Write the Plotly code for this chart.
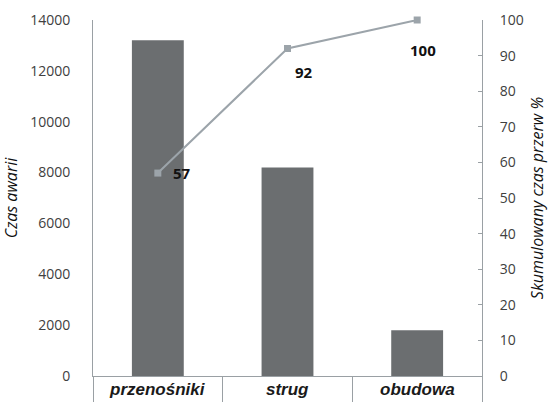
import plotly.graph_objects as go

categories = ["przenośniki", "strug", "obudowa"]
czas_awarii = [13200, 8200, 1800]
skumulowany = [57, 92, 100]
etykiety = ["57", "92", "100"]
# label offsets (px) from each cumulative point
label_dx = [24, 16, 6]
label_dy = [0, -24, -30]

left_ticks = [0, 2000, 4000, 6000, 8000, 10000, 12000, 14000]
right_ticks = [0, 10, 20, 30, 40, 50, 60, 70, 80, 90, 100]

axis_col = "#9aa0a4"
tick_font = dict(family="Open Sans", size=14, color="#404040")

fig = go.Figure()
fig.add_trace(go.Bar(
    x=categories, y=czas_awarii, width=0.4,
    marker=dict(color="#6b6e70", line=dict(width=0)),
    yaxis="y", showlegend=False,
))
fig.add_trace(go.Scatter(
    x=categories, y=skumulowany, yaxis="y2",
    mode="lines+markers",
    line=dict(color="#9ca4aa", width=2),
    marker=dict(symbol="square", size=7, color="#9ca4aa"),
    showlegend=False, cliponaxis=False,
))

for c, v, t, dx, dy in zip(categories, skumulowany, etykiety, label_dx, label_dy):
    fig.add_annotation(
        x=c, xref="x", y=v, yref="y2", xshift=dx, yshift=dy,
        text=f"<b>{t}</b>", showarrow=False,
        font=dict(family="Open Sans", size=15, color="#111111"),
    )

# category names sit between the boundary ticks under the axis
for c in categories:
    fig.add_annotation(
        x=c, xref="x", y=0, yref="paper", yanchor="top", yshift=-2,
        text=f"<b><i>{c}</i></b>", showarrow=False,
        font=dict(family="Liberation Sans", size=17, color="#1a1a1a"),
    )

fig.update_layout(
    width=548, height=403,
    margin=dict(l=93, r=66, t=20, b=27),
    plot_bgcolor="white", paper_bgcolor="white",
    bargap=0.6,
    xaxis=dict(
        type="category", showgrid=False, automargin=False,
        showline=True, linecolor=axis_col, linewidth=1,
        ticks="outside", tickson="boundaries", ticklen=25,
        tickcolor=axis_col, tickwidth=1,
        showticklabels=False,
    ),
    yaxis=dict(
        range=[0, 14000], tickvals=left_ticks,
        ticktext=[str(v) for v in left_ticks], showgrid=False,
        showline=True, linecolor=axis_col, linewidth=1, automargin=False,
        ticks="", tickfont=tick_font, ticklabelstandoff=19,
        zeroline=False,
        title=dict(text="<i>Czas awarii</i>",
                   font=dict(family="Open Sans", size=16, color="#111111"),
                   standoff=12),
    ),
    yaxis2=dict(
        range=[0, 100], tickvals=right_ticks, overlaying="y", side="right",
        showgrid=False, showline=True, linecolor=axis_col, linewidth=1,
        ticks="inside", ticklen=4, tickcolor=axis_col, automargin=False,
        tickfont=tick_font, ticklabelstandoff=14, zeroline=False,
        title=dict(text="<i>Skumulowany czas przerw %</i>",
                   font=dict(family="Open Sans", size=16, color="#111111"),
                   standoff=16),
    ),
)

fig.write_html("out.html")
